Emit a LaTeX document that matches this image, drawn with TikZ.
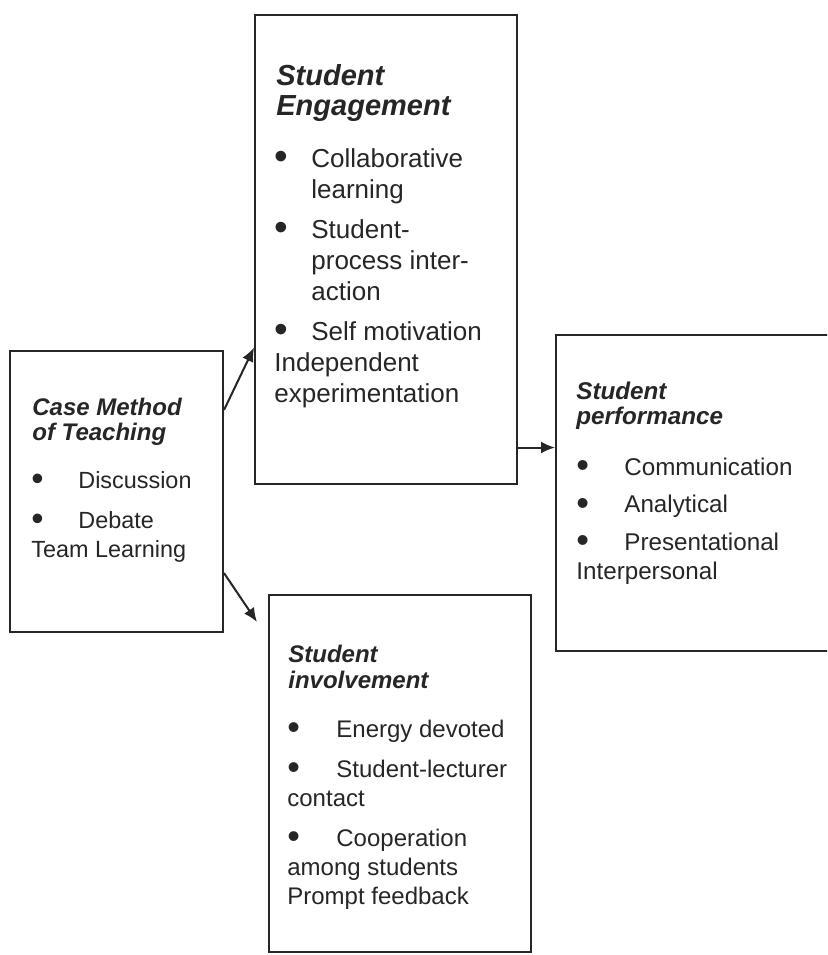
\documentclass[tikz,border=0pt]{standalone}
\usepackage{fontspec}
\setmainfont{Liberation Sans}
\usepackage{tikz}
\usetikzlibrary{fit,arrows.meta}

\newcommand{\itm}[1]{\makebox[#1][l]{\raisebox{-0.1em}{\scalebox{1.5}{\textbullet}}}}

\tikzset{
  box/.style={draw=black!85, line width=1pt, inner sep=0pt},
  txt/.style={anchor=north west, inner sep=0pt, align=left, text=black!85},
  head/.style n args={2}{txt, font=\fontsize{#1}{#2}\selectfont\bfseries\itshape},
  arr/.style={line width=1pt, black!85, -{Latex[length=7pt,width=6pt]}}
}

\begin{document}
\begin{tikzpicture}[x=0.5pt,y=-0.5pt]
    \useasboundingbox (0,0) rectangle (827,955);
    \fill[white] (0,0) rectangle (827,955);
    \clip (0,0) rectangle (827,955);

    \coordinate (case1) at (10,351);
    \coordinate (case2) at (223,632);
    \coordinate (eng1) at (255,15);
    \coordinate (eng2) at (517,484);
    \coordinate (perf1) at (556,335);
    \coordinate (perf2) at (850,651);
    \coordinate (inv1) at (269,595);
    \coordinate (inv2) at (531,952);

    \node[box, fit={(case1) (case2)}] (case) {};
    \node[box, fit={(eng1) (eng2)}] (eng) {};
    \node[box, fit={(perf1) (perf2)}] (perf) {};
    \node[box, fit={(inv1) (inv2)}] (inv) {};

    % case method
    \node[head={12}{12.5}] (casehead) at (32,398) {Case Method\\of Teaching};
    \node[txt, font=\fontsize{11.7}{14.5}\selectfont] (caselist) at (31,471)
      {\itm{23.5pt}Discussion\\[5.5pt]\itm{23.5pt}Debate\\Team Learning};

    % engagement
    \node[head={14.5}{15}] (enghead) at (276,64) {Student\\Engagement};
    \node[txt, font=\fontsize{13}{15.5}\selectfont] (englist) at (274,148)
      {\itm{18.5pt}Collaborative\\\hspace*{18.5pt}learning\\[4.5pt]%
       \itm{18.5pt}Student-\\\hspace*{18.5pt}process inter-\\\hspace*{18.5pt}action\\[4.5pt]%
       \itm{18.5pt}Self motivation\\Independent\\experimentation};

    % performance
    \node[head={12.1}{12.5}] (perfhead) at (576,382) {Student\\performance};
    \node[txt, font=\fontsize{12.1}{14.75}\selectfont] (perflist) at (576,457.5)
      {\itm{24pt}Communication\\[4pt]\itm{24pt}Analytical\\[4pt]\itm{24pt}Presentational\\Interpersonal};

    % involvement
    \node[head={12}{13}] (invhead) at (288,644.5) {Student\\involvement};
    \node[txt, font=\fontsize{12}{14.5}\selectfont] (invlist) at (287,719.5)
      {\itm{24.5pt}Energy devoted\\[5.5pt]\itm{24.5pt}Student-lecturer\\contact\\[5.5pt]%
       \itm{24.5pt}Cooperation\\among students\\Prompt feedback};

    \draw[arr] ([yshift=40.75pt]case.east) -- ([yshift=-49pt]eng.west);
    \draw[arr] ([yshift=-40.75pt]case.east) -- ([xshift=-5.5pt,yshift=-14pt]inv.north west);
    \draw[arr] ([yshift=-99pt]eng.east) -- ([yshift=-99pt]eng.east -| perf.west);
\end{tikzpicture}
\end{document}
